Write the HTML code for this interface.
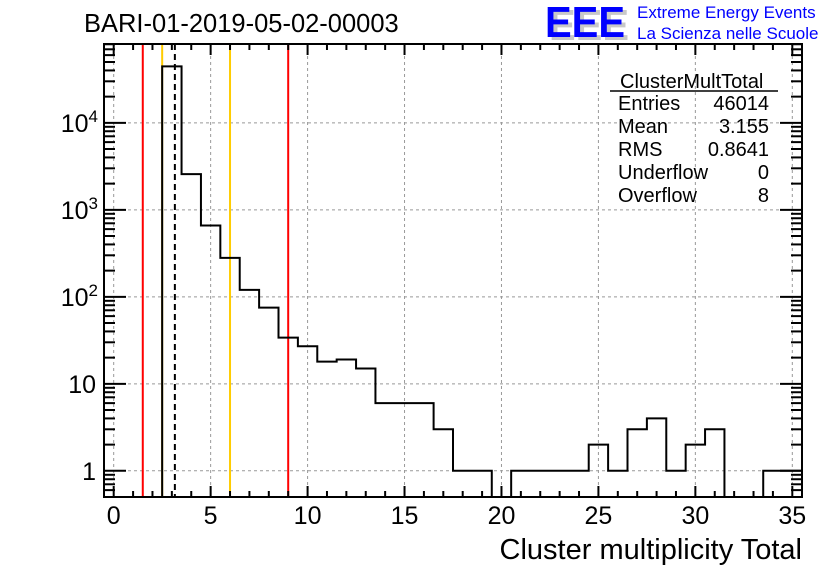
<!DOCTYPE html>
<html><head><meta charset="utf-8"><style>
body{margin:0;background:#fff;}
svg{display:block;font-family:"Liberation Sans",sans-serif;}
</style></head><body>
<svg id="c" width="836" height="572" viewBox="0 0 836 572">
<text x="84" y="32" font-size="25.5">BARI-01-2019-05-02-00003</text>
<g>
<text x="549" y="40" font-size="44" font-weight="bold" fill="#c8c8c8" textLength="80" lengthAdjust="spacingAndGlyphs">EEE</text>
<text x="545" y="37" font-size="44" font-weight="bold" fill="#0000ff" textLength="80" lengthAdjust="spacingAndGlyphs">EEE</text>
<text x="637" y="18" font-size="17" fill="#0000ff">Extreme Energy Events</text>
<text x="637" y="39" font-size="17" fill="#0000ff">La Scienza nelle Scuole</text>
</g>
<g id="grid"></g>
<g id="lines"></g>
<path id="hist" fill="none" stroke="#000" stroke-width="2"/>
<g id="axes"></g>
<g font-size="20">
<text x="620" y="88">ClusterMultTotal</text>
<line x1="610" y1="91" x2="778" y2="91" stroke="#000" stroke-width="1.5"/>
<text x="618" y="110">Entries</text><text x="769" y="110" text-anchor="end">46014</text>
<text x="618" y="133">Mean</text><text x="769" y="133" text-anchor="end">3.155</text>
<text x="618" y="156">RMS</text><text x="769" y="156" text-anchor="end">0.8641</text>
<text x="618" y="179">Underflow</text><text x="769" y="179" text-anchor="end">0</text>
<text x="618" y="202">Overflow</text><text x="769" y="202" text-anchor="end">8</text>
</g>
<text x="802" y="559" font-size="29" text-anchor="end">Cluster multiplicity Total</text>
</svg>
<script>
const binCenters=[0,1,2,3,4,5,6,7,8,9,10,11,12,13,14,15,16,17,18,19,20,21,22,23,24,25,26,27,28,29,30,31,32,33,34,35];
const counts=[0,0,0,44600,2570,660,280,120,75,34,27,18,19,15,6,6,6,3,1,1,0,1,1,1,1,2,1,3,4,1,2,3,0,0,1,1];
const xTicks=[0,5,10,15,20,25,30,35];
const yDecades=[1,10,100,1000,10000];
const yLabels=["1","10","10²","10³","10⁴"];
const cutLines=[{v:1.5,c:"#ff0000"},{v:2.5,c:"#ffcc00"},{v:6.0,c:"#ffcc00"},{v:9.0,c:"#ff0000"}];
const meanValue=3.155;
const L=104,R=802,T=44,B=497,xmin=-0.5,xmax=35.5,ymin=0.5,lymax=4.906;
const NS="http://www.w3.org/2000/svg";
const X=v=>L+(v-xmin)/(xmax-xmin)*(R-L);
const lmin=Math.log10(ymin);
const Y=v=>v<=0?B:Math.max(T,B-(Math.log10(v)-lmin)/(lymax-lmin)*(B-T));
function mk(p,t,a){const e=document.createElementNS(NS,t);for(const k in a)e.setAttribute(k,a[k]);p.appendChild(e);return e;}
const grid=document.getElementById('grid'),axes=document.getElementById('axes'),lines=document.getElementById('lines');
xTicks.forEach(v=>{const g=mk(grid,'line',{x1:X(v),x2:X(v),y1:T,y2:B,stroke:'#999','stroke-dasharray':'3,3','stroke-width':1});
});
yDecades.forEach(v=>{const g=mk(grid,'line',{x1:L,x2:R,y1:Y(v),y2:Y(v),stroke:'#999','stroke-dasharray':'3,3','stroke-width':1});
});
cutLines.forEach(c=>{const l=mk(lines,'line',{x1:X(c.v),x2:X(c.v),y1:T,y2:B,stroke:c.c,'stroke-width':2});
});
const ml=mk(lines,'line',{x1:X(meanValue),x2:X(meanValue),y1:T,y2:B,stroke:'#000','stroke-width':2,'stroke-dasharray':'6,4'});

let d='';
binCenters.forEach((c,i)=>{const x0=X(c-0.5),x1=X(c+0.5),y=Y(counts[i]);d+=(i==0?'M'+x0+','+y:'L'+x0+','+y)+'L'+x1+','+y;});
document.getElementById('hist').setAttribute('d',d);
mk(axes,'rect',{x:L,y:T,width:R-L,height:B-T,fill:'none',stroke:'#000','stroke-width':2});
for(let v=0;v<=35;v++){const len=v%5==0?11:6;
mk(axes,'line',{x1:X(v),x2:X(v),y1:B,y2:B-len,stroke:'#000','stroke-width':2});
mk(axes,'line',{x1:X(v),x2:X(v),y1:T,y2:T+len,stroke:'#000','stroke-width':2});}
xTicks.forEach(v=>{const t=mk(axes,'text',{x:X(v),y:B+27,'font-size':25,'text-anchor':'middle'});t.textContent=v;
});
for(let e=-1;e<=5;e++)for(let m=1;m<=9;m++){const v=m*Math.pow(10,e);if(v<ymin||Math.log10(v)>lymax)continue;const len=m==1?22:11;const y=Y(v);
mk(axes,'line',{x1:L,x2:L+len,y1:y,y2:y,stroke:'#000','stroke-width':2});
mk(axes,'line',{x1:R,x2:R-len,y1:y,y2:y,stroke:'#000','stroke-width':2});}
yDecades.forEach((v,i)=>{const t=mk(axes,'text',{x:i<2?96:98,y:Y(v)+9,'font-size':25,'text-anchor':'end'});
if(i<2)t.textContent=yLabels[i];else{t.textContent='10';const s=mk(t,'tspan',{dy:-10,'font-size':17});s.textContent=String(i);}
});
</script>
</body></html>
